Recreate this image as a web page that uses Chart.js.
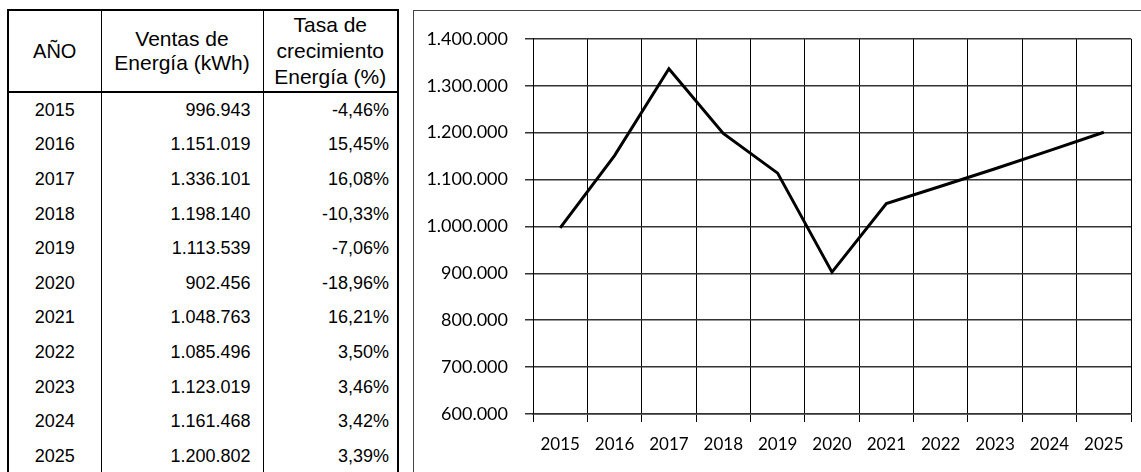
<!DOCTYPE html>
<html lang="es">
<head>
    <meta charset="UTF-8">
    <title>Ventas de Energía 2015-2025</title>
    <script src="https://cdn.jsdelivr.net/npm/chart.js"></script>
    <style>
        body {
            margin: 0;
            background: #fff;
            width: 1141px;
            height: 472px;
            overflow: hidden;
            position: relative;
            font-family: 'Liberation Sans', Arial, sans-serif;
            color: #000;
        }
        #tabla {
            position: absolute;
            left: 7px;
            top: 9px;
            border-collapse: collapse;
            table-layout: fixed;
            border: 2px solid #000;
        }
        #tabla th {
            font-weight: normal;
            font-size: 21px;
            height: 80px;
            padding: 0;
            text-align: center;
            vertical-align: middle;
            border-left: 1.5px solid #000;
            border-bottom: 2px solid #000;
        }
        #tabla td {
            font-size: 18px;
            height: 34.6px;
            padding: 0;
            border-left: 1.5px solid #000;
        }
        #tabla td.anio { text-align: center; }
        #tabla td.ventas { text-align: right; padding-right: 12px; }
        #tabla td.tasa { text-align: right; padding-right: 8px; }
        .marco {
            position: absolute;
            left: 413px;
            top: 10px;
            width: 760px;
            height: 500px;
            border-left: 1px solid #444;
            border-top: 1px solid #444;
        }
        .grafico {
            position: absolute;
            left: 414px;
            top: 11px;
            width: 727px;
            height: 461px;
        }
    </style>
</head>
<body>

    <table id="tabla">
        <colgroup>
            <col style="width:93px">
            <col style="width:162px">
            <col style="width:135px">
        </colgroup>
        <thead>
            <tr>
                <th style="font-size:20px">AÑO</th>
                <th style="line-height:24px">Ventas de<br>Energía (kWh)</th>
                <th style="line-height:26px">Tasa de<br>crecimiento<br>Energía (%)</th>
            </tr>
        </thead>
        <tbody id="filas"></tbody>
    </table>

    <div class="marco"></div>
    <div class="grafico">
        <canvas id="ventasChart" width="727" height="461"></canvas>
    </div>

    <script>
        const anios = ['2015', '2016', '2017', '2018', '2019', '2020', '2021', '2022', '2023', '2024', '2025'];
        const ventas = [996943, 1151019, 1336101, 1198140, 1113539, 902456, 1048763, 1085496, 1123019, 1161468, 1200802];
        const tasas = ['-4,46%', '15,45%', '16,08%', '-10,33%', '-7,06%', '-18,96%', '16,21%', '3,50%', '3,46%', '3,42%', '3,39%'];
        const ejeMin = 600000;
        const ejeMax = 1400000;
        const ejePaso = 100000;

        function miles(n) {
            return String(n).replace(/\B(?=(\d{3})+(?!\d))/g, '.');
        }

        // filas de la tabla
        const tbody = document.getElementById('filas');
        anios.forEach((a, i) => {
            const tr = document.createElement('tr');
            tr.innerHTML = '<td class="anio">' + a + '</td>' +
                '<td class="ventas">' + miles(ventas[i]) + '</td>' +
                '<td class="tasa">' + tasas[i] + '</td>';
            tbody.appendChild(tr);
        });

        new Chart(document.getElementById('ventasChart').getContext('2d'), {
            type: 'line',
            data: {
                labels: anios,
                datasets: [{
                    label: 'Ventas de Energía (kWh)',
                    data: ventas,
                    borderColor: '#000',
                    borderWidth: 3,
                    pointRadius: 0,
                    tension: 0,
                    fill: false
                }]
            },
            options: {
                responsive: false,
                animation: false,
                layout: { padding: { top: 22, right: 10, bottom: 0, left: 0 } },
                plugins: {
                    legend: { display: false },
                    tooltip: { enabled: false }
                },
                scales: {
                    x: {
                        offset: true,
                        grid: {
                            offset: true,
                            color: '#000',
                            lineWidth: 1,
                            tickLength: 8
                        },
                        border: { color: '#333', width: 1.5 },
                        ticks: {
                            color: '#000',
                            font: { family: 'Lato, "Open Sans", sans-serif', size: 17 },
                            padding: 12,
                            maxRotation: 0,
                            autoSkip: false
                        },
                        afterFit: (s) => { s.height = 58; }
                    },
                    y: {
                        min: ejeMin,
                        max: ejeMax,
                        grid: {
                            color: '#333',
                            lineWidth: 1.5,
                            tickLength: 8
                        },
                        border: { color: '#000', width: 1 },
                        ticks: {
                            stepSize: ejePaso,
                            color: '#000',
                            font: { family: 'Lato, "Open Sans", sans-serif', size: 18 },
                            padding: 17,
                            callback: (v) => miles(v)
                        },
                        afterFit: (s) => { s.width = 119; }
                    }
                }
            }
        });
    </script>
</body>
</html>
